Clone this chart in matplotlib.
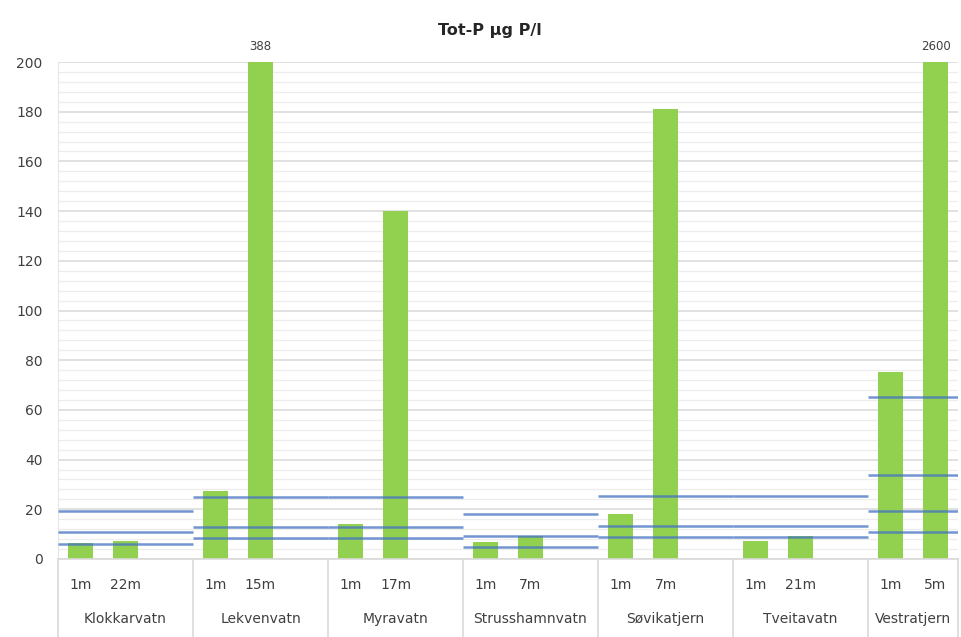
import matplotlib
matplotlib.use("Agg")
import matplotlib.pyplot as plt
import matplotlib.transforms as mtransforms
import numpy as np

# ---- data ----
lakes = ["Klokkarvatn", "Lekvenvatn", "Myravatn", "Strusshamnvatn",
         "Søvikatjern", "Tveitavatn", "Vestratjern"]
depths = [["1m", "22m"], ["1m", "15m"], ["1m", "17m"], ["1m", "7m"],
          ["1m", "7m"], ["1m", "21m"], ["1m", "5m"]]
tot_p = [[6.3, 7.2], [27.4, 388], [14.0, 140], [7.0, 9.3],
         [18.0, 181], [7.2, 9.3], [75.3, 2600]]
# class limits (blue lines) per lake
class_limits = [[19.3, 10.8, 6.0], [25.0, 12.9, 8.5], [25.0, 12.9, 8.5],
                [18.3, 9.4, 4.8], [25.4, 13.4, 9.0], [25.4, 13.4, 9.0],
                [65.0, 33.8, 19.4, 11.0]]
y_max = 200
y_ticks = list(range(0, 201, 20))

# ---- figure ----
fig = plt.figure(figsize=(9.61, 6.37), dpi=100)
ax = fig.add_axes([58/961, 1-559/637, 900/961, 497/637])
ax.set_xlim(-0.5, 19.5)
ax.set_ylim(0, y_max)

# category positions: 3 slots per lake except the last (2 slots)
positions, groups = [], []
start = 0
for i, lake in enumerate(lakes):
    n_slots = 3 if i < len(lakes) - 1 else 2
    pos = [start + j for j in range(len(depths[i]))]
    positions.append(pos)
    groups.append((start - 0.5, start + n_slots - 0.5))
    start += n_slots

# gridlines
for v in np.arange(0, y_max + 1, 4):
    if v % 20 == 0:
        ax.axhline(v, color="#d9d9d9", lw=1.1, zorder=1)
    else:
        ax.axhline(v, color="#ededed", lw=0.9, zorder=1)

xs_all, vals_all = [], []
for pos, vals in zip(positions, tot_p):
    xs_all += pos
    vals_all += vals
ax.bar(xs_all, vals_all, width=0.55, color="#92d050", zorder=2)

# labels for clipped values
for x, v in zip(xs_all, vals_all):
    if v > y_max:
        ax.annotate(f"{v:g}", (x, y_max), xytext=(0, 15), textcoords="offset pixels",
                    ha="center", va="center", fontsize=8.5, color="#404040",
                    annotation_clip=False)

# class-limit lines
for (g0, g1), lims in zip(groups, class_limits):
    for lv in lims:
        ax.plot([g0, g1], [lv, lv], color="#4472c4", lw=1.8, alpha=0.75, zorder=3,
                solid_capstyle="butt")

# axes styling
for s in ["top", "right"]:
    ax.spines[s].set_visible(False)
ax.spines["left"].set_color("#e6e6e6")
ax.spines["bottom"].set_color("#d9d9d9")
ax.spines["bottom"].set_linewidth(1.2)
ax.set_yticks(y_ticks)
ax.tick_params(axis="y", length=0, pad=11, labelsize=10, labelcolor="#404040")
ax.set_xticks([])

# two-level category axis
trans = mtransforms.blended_transform_factory(ax.transData, ax.transAxes)
sub_y = -(585 - 559) / 497
grp_y = -(619 - 559) / 497
sep_bottom = -(637 - 559) / 497
for pos, labs in zip(positions, depths):
    for x, lab in zip(pos, labs):
        ax.text(x, sub_y, lab, transform=trans, ha="center", va="center",
                fontsize=10, color="#404040")
for (g0, g1), lake in zip(groups, lakes):
    ax.text((g0 + g1) / 2, grp_y, lake, transform=trans, ha="center", va="center",
            fontsize=10, color="#404040")
bounds = sorted(set([g for gr in groups for g in gr]))
for b in bounds:
    ax.plot([b, b], [0, sep_bottom], transform=trans, color="#d9d9d9", lw=1.2,
            clip_on=False)

fig.text(490/961, 1-30/637, "Tot-P µg P/l", ha="center", va="center",
         fontsize=11.5, fontweight="bold", color="#262626")

fig.savefig("out.png", dpi=100)
